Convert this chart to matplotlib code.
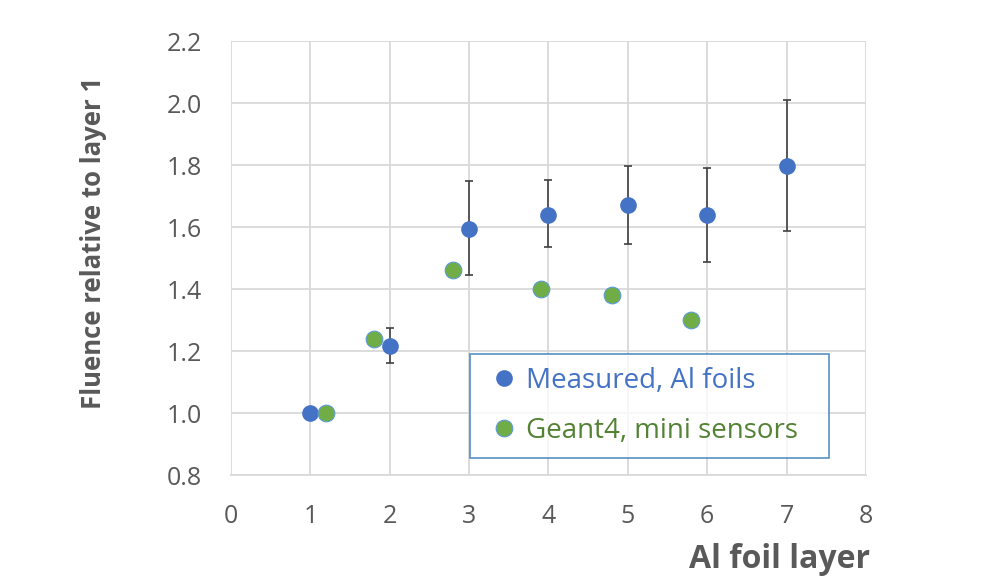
import matplotlib.pyplot as plt
import numpy as np

# measured data (Al foils)
meas_x = [1, 2, 3, 4, 5, 6, 7]
meas_y = [1.0, 1.215, 1.595, 1.64, 1.67, 1.64, 1.797]
meas_lo = [0.0, 0.055, 0.15, 0.105, 0.125, 0.153, 0.21]
meas_hi = [0.0, 0.06, 0.152, 0.112, 0.128, 0.15, 0.213]

# Geant4 simulation (mini sensors)
sim_x = [1.2, 1.8, 2.8, 3.9, 4.8, 5.8]
sim_y = [1.0, 1.24, 1.46, 1.40, 1.38, 1.30]

xticks = [0, 1, 2, 3, 4, 5, 6, 7, 8]
yticks = [0.8, 1.0, 1.2, 1.4, 1.6, 1.8, 2.0, 2.2]

blue = '#4472C4'
green = '#70AD47'
gray = '#595959'

plt.rcParams['font.family'] = ['Open Sans', 'DejaVu Sans']

fig = plt.figure(figsize=(9.89, 5.86), dpi=100)
ax = fig.add_axes([0.2336, 0.1894, 0.642, 0.7406])

ax.errorbar(meas_x, meas_y, yerr=[meas_lo, meas_hi], fmt='none',
            ecolor='#404040', elinewidth=1.2, capsize=3, capthick=1.2, zorder=2)
ax.plot(meas_x, meas_y, 'o', color=blue, markersize=12, markeredgewidth=0,
        label='Measured, Al foils', zorder=3)
ax.plot(sim_x, sim_y, 'o', color=green, markersize=12, markeredgecolor='#5B9BD5',
        markeredgewidth=0.8, label='Geant4, mini sensors', zorder=3)

ax.set_xlim(0, 8)
ax.set_ylim(0.8, 2.2)
ax.set_xticks(xticks)
ax.set_yticks(yticks)
ax.set_yticklabels(['%.1f' % v for v in yticks])
ax.grid(True, color='#D9D9D9', linewidth=1.3)
ax.set_axisbelow(True)
for s in ['top', 'right', 'left']:
    ax.spines[s].set_visible(False)
ax.spines['bottom'].set_color('#D9D9D9')
ax.spines['bottom'].set_linewidth(1.3)
ax.tick_params(length=0, labelsize=18, labelcolor=gray, pad=21)

fig.text(0.095, 0.585, 'Fluence relative to layer 1', rotation=90, ha='center',
         va='center', fontsize=18.5, fontweight='bold', color=gray)
fig.text(0.88, 0.046, 'Al foil layer', ha='right', va='center',
         fontsize=23, fontweight='bold', color=gray)

leg = ax.legend(loc='lower left', bbox_to_anchor=(0.377, 0.04, 0.565, 0.24),
                mode='expand', fontsize=20, frameon=True, fancybox=False,
                handletextpad=0.05, handlelength=1.5, borderaxespad=0,
                labelspacing=0.8, borderpad=0.45)
leg.get_frame().set_edgecolor('#2E75B6')
leg.get_frame().set_linewidth(1.2)
leg.get_texts()[0].set_color(blue)
leg.get_texts()[1].set_color('#548235')

fig.savefig('out.png', dpi=100)
